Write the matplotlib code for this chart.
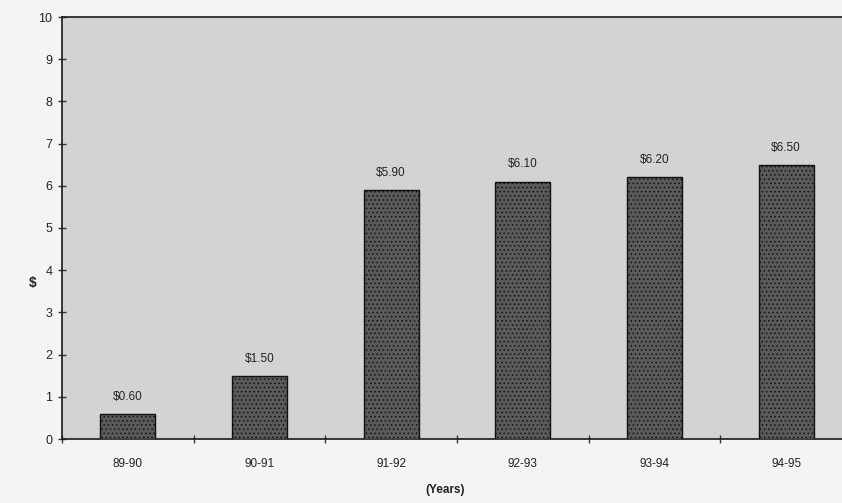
import matplotlib.pyplot as plt
import numpy as np

plt.rcParams['font.family'] = ['Liberation Sans', 'DejaVu Sans']
plt.rcParams['hatch.color'] = '#2a2a2a'
plt.rcParams['hatch.linewidth'] = 0.6

# data
years = ['89-90', '90-91', '91-92', '92-93', '93-94', '94-95']
prices = [0.60, 1.50, 5.90, 6.10, 6.20, 6.50]
price_labels = ['$0.60', '$1.50', '$5.90', '$6.10', '$6.20', '$6.50']

fig = plt.figure(figsize=(8.42, 5.03), dpi=100, facecolor='#f4f4f2')
# the plot area runs off the right side of the scan
ax = fig.add_axes([62/842, 64/503, 790/842, 422/503])
ax.set_facecolor('#d3d3d1')

x = np.arange(len(years))
ax.bar(x, prices, width=0.42, color='#5a5a5a', edgecolor='#111111',
       linewidth=1.0, hatch='....', zorder=3)

for xi, val, lab in zip(x, prices, price_labels):
    ax.annotate(lab.replace('$', r'\$'), (xi, val), xytext=(0, 8),
                textcoords='offset points', ha='center', va='bottom',
                fontsize=8.5, color='#222222')

ax.set_xlim(-0.5, len(years) - 0.5)
ax.set_ylim(0, 10)
ax.set_yticks(range(0, 11))
ax.set_xticks(x)
ax.set_xticklabels(years)
ax.set_xticks(np.arange(-0.5, len(years)), minor=True)
ax.tick_params(axis='x', which='major', length=0, pad=14, labelsize=8.5, labelcolor='#222222')
ax.tick_params(axis='x', which='minor', direction='inout', length=6, width=1, color='#333333')
ax.tick_params(axis='y', direction='inout', length=6, width=1, color='#333333',
               labelsize=9, labelcolor='#222222', pad=4)

for side in ['left', 'bottom', 'top']:
    ax.spines[side].set_color('#1a1a1a')
    ax.spines[side].set_linewidth(1.2)
ax.spines['right'].set_visible(False)

fig.text(33/842, 1 - 283/503, '$', ha='center', va='center', fontsize=10,
         fontweight='bold', color='#222222')
fig.text(445/842, 1 - 490/503, '(Years)', ha='center', va='center', fontsize=8.5,
         fontweight='bold', color='#222222')

fig.savefig('out.png', dpi=100, facecolor=fig.get_facecolor())
